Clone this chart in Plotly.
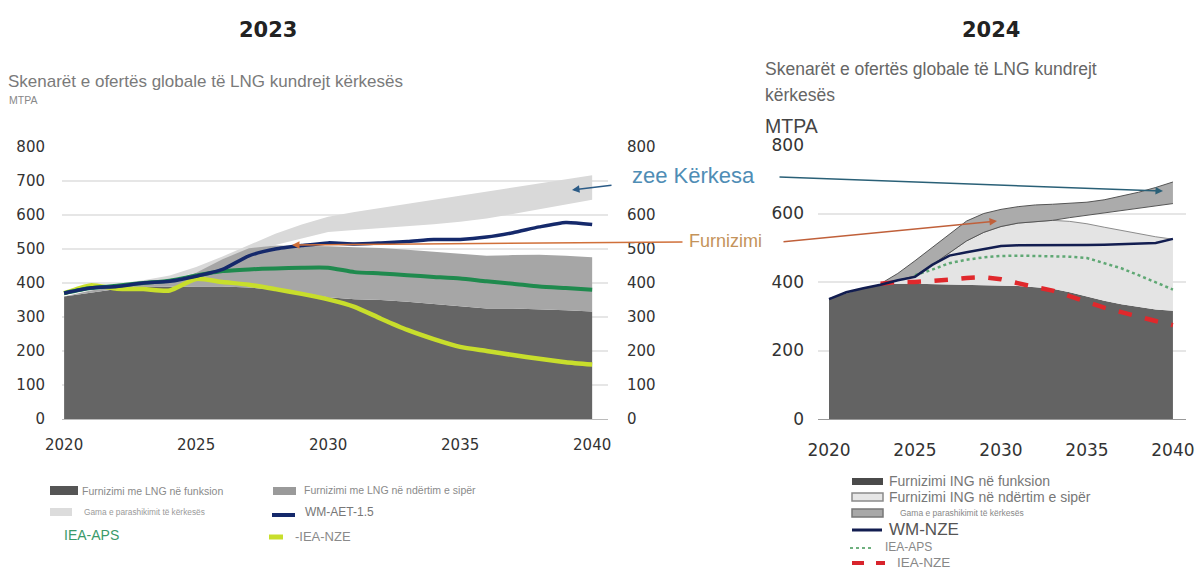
import plotly.graph_objects as go

W, H = 1195, 569
years = list(range(2020, 2041))

# ---------------- 2023 chart data (MTPA) ----------------
supply_op_23 = [360, 372, 382, 388, 390, 390, 390, 387, 380, 370, 358, 352, 350, 345, 338, 330, 325, 325, 323, 320, 316]
supply_top_23 = [360, 378, 388, 395, 405, 430, 470, 502, 510, 510, 508, 505, 503, 498, 492, 486, 480, 482, 483, 480, 476]
demand_lo_23 = [370, 385, 395, 400, 410, 430, 460, 495, 512, 530, 550, 556, 561, 566, 573, 580, 590, 603, 617, 630, 645]
demand_hi_23 = [372, 388, 398, 408, 422, 447, 478, 512, 545, 572, 595, 609, 621, 634, 646, 658, 669, 681, 694, 706, 717]
wm_aet_23 = [370, 385, 390, 400, 405, 420, 440, 480, 500, 510, 518, 515, 518, 522, 528, 528, 535, 548, 565, 578, 572]
iea_aps_23 = [370, 385, 392, 400, 407, 422, 435, 440, 443, 445, 445, 432, 428, 423, 418, 413, 405, 398, 390, 385, 380]
iea_nze_23 = [370, 393, 383, 382, 378, 412, 403, 395, 382, 368, 352, 330, 295, 262, 235, 212, 200, 188, 177, 167, 160]

# ---------------- 2024 chart data (MTPA) ----------------
supply_op_24 = [352, 368, 382, 391, 395, 395, 394, 392, 391, 390, 390, 388, 385, 380, 370, 357, 345, 335, 328, 320, 316]
supply_top_24 = [352, 368, 382, 392, 405, 418, 450, 485, 520, 545, 562, 572, 577, 580, 577, 570, 560, 550, 540, 532, 525]
band_years_24 = list(range(2023, 2041))
demand_lo_24 = [392, 405, 418, 450, 485, 520, 545, 562, 572, 577, 580, 588, 595, 602, 608, 615, 622, 629]
demand_hi_24 = [395, 425, 462, 500, 540, 578, 600, 612, 620, 625, 627, 629, 633, 640, 650, 662, 676, 692]
wm_nze_24 = [350, 370, 382, 392, 405, 415, 450, 477, 487, 495, 505, 507, 507, 508, 506, 508, 509, 510, 512, 514, 526]
aps_years_24 = list(range(2025, 2041))
iea_aps_24 = [420, 436, 455, 465, 472, 476, 477, 476, 475, 474, 470, 455, 440, 420, 400, 378]
nze_years_24 = list(range(2023, 2041))
iea_nze_24 = [395, 400, 400, 402, 407, 412, 414, 408, 395, 385, 375, 358, 342, 325, 312, 298, 286, 274]

y_ticks_23 = [0, 100, 200, 300, 400, 500, 600, 700, 800]
y_ticks_23_right = [0, 100, 200, 300, 400, 500, 600, 800]  # 700 is hidden under the call-out
y_ticks_24 = [0, 200, 400, 600, 800]
x_ticks = [2020, 2025, 2030, 2035, 2040]


def X(px):
    return px / W


def Y(py):
    return 1 - py / H


fig = go.Figure()

# ---- 2023 chart ----
fig.add_trace(go.Scatter(x=years, y=demand_lo_23, mode="lines", line=dict(width=0, color="#d9d9d9"),
                         xaxis="x", yaxis="y", hoverinfo="skip"))
fig.add_trace(go.Scatter(x=years, y=demand_hi_23, mode="lines", line=dict(width=0, color="#d9d9d9"),
                         fill="tonexty", fillcolor="#d9d9d9", xaxis="x", yaxis="y"))
fig.add_trace(go.Scatter(x=years, y=supply_op_23, mode="lines", line=dict(width=0, color="#656565"),
                         fill="tozeroy", fillcolor="#656565", xaxis="x", yaxis="y"))
fig.add_trace(go.Scatter(x=years, y=supply_top_23, mode="lines", line=dict(width=0, color="#a6a6a6"),
                         fill="tonexty", fillcolor="#a6a6a6", xaxis="x", yaxis="y"))
fig.add_trace(go.Scatter(x=years, y=iea_nze_23, mode="lines", line=dict(width=4.5, color="#c8de2c", shape="spline", smoothing=0.6),
                         xaxis="x", yaxis="y"))
fig.add_trace(go.Scatter(x=years, y=iea_aps_23, mode="lines", line=dict(width=4, color="#1f8a4e", shape="spline", smoothing=0.6),
                         xaxis="x", yaxis="y"))
fig.add_trace(go.Scatter(x=years, y=wm_aet_23, mode="lines", line=dict(width=3.5, color="#15296b", shape="spline", smoothing=0.6),
                         xaxis="x", yaxis="y"))
# secondary axis carrier
fig.add_trace(go.Scatter(x=[2020], y=[0], mode="markers", marker=dict(opacity=0), xaxis="x", yaxis="y3",
                         hoverinfo="skip"))

# ---- 2024 chart ----
fig.add_trace(go.Scatter(x=years, y=supply_op_24, mode="lines", line=dict(width=0, color="#636363"),
                         fill="tozeroy", fillcolor="#636363", xaxis="x2", yaxis="y2"))
fig.add_trace(go.Scatter(x=years, y=supply_top_24, mode="lines", line=dict(width=1, color="#8c8c8c"),
                         fill="tonexty", fillcolor="#e4e4e4", xaxis="x2", yaxis="y2"))
fig.add_trace(go.Scatter(x=band_years_24, y=demand_lo_24, mode="lines", line=dict(width=1, color="#555555"),
                         xaxis="x2", yaxis="y2"))
fig.add_trace(go.Scatter(x=band_years_24, y=demand_hi_24, mode="lines", line=dict(width=1, color="#555555"),
                         fill="tonexty", fillcolor="#ababab", xaxis="x2", yaxis="y2"))
fig.add_trace(go.Scatter(x=aps_years_24, y=iea_aps_24, mode="lines", line=dict(width=2.5, color="#5fa874", dash="dot"),
                         xaxis="x2", yaxis="y2"))
fig.add_trace(go.Scatter(x=nze_years_24, y=iea_nze_24, mode="lines", line=dict(width=4.5, color="#e0282c", dash="dash"),
                         xaxis="x2", yaxis="y2"))
fig.add_trace(go.Scatter(x=years, y=wm_nze_24, mode="lines", line=dict(width=2.5, color="#121d50"),
                         xaxis="x2", yaxis="y2"))

tickfont_l = dict(family="DejaVu Sans", size=15, color="#333333")
tickfont_r = dict(family="DejaVu Sans", size=17, color="#333333")

fig.update_layout(
    width=W, height=H, margin=dict(l=0, r=0, t=0, b=0, autoexpand=False),
    paper_bgcolor="white", plot_bgcolor="rgba(0,0,0,0)", showlegend=False,
    xaxis=dict(domain=[X(62), X(608)], range=[2019.92, 2040.6], tickvals=x_ticks, showgrid=False,
               zeroline=False, showline=True, linecolor="#bbbbbb", linewidth=1, tickfont=tickfont_l,
               ticks="", ticklabelstandoff=12, anchor="y", automargin=False),
    yaxis=dict(domain=[Y(419), Y(147)], range=[0, 800], tickvals=y_ticks_23, showgrid=True,
               gridcolor="#e6e6e6", gridwidth=1.5, zeroline=False, tickfont=tickfont_l, ticks="",
               ticklabelstandoff=16, anchor="x", automargin=False),
    yaxis3=dict(domain=[Y(419), Y(147)], range=[0, 800], tickvals=y_ticks_23_right, overlaying="y", side="right",
                showgrid=False, zeroline=False, tickfont=tickfont_l, ticks="", ticklabelstandoff=18, anchor="x",
                automargin=False),
    xaxis2=dict(domain=[X(818), X(1186)], range=[2019.36, 2040.76], tickvals=x_ticks, showgrid=False,
                zeroline=False, showline=True, linecolor="#999999", linewidth=1,
                tickfont=dict(family="DejaVu Sans", size=17, color="#333333"),
                ticks="", ticklabelstandoff=16, anchor="y2", automargin=False),
    yaxis2=dict(domain=[Y(419), Y(145)], range=[0, 800], tickvals=y_ticks_24, showgrid=True,
                gridcolor="#e6e6e6", gridwidth=1.5, zeroline=False, tickfont=tickfont_r, ticks="",
                ticklabelstandoff=13, anchor="x2", automargin=False),
)

ann = []
shapes = []


def text(px, py, s, size, color, family="Liberation Sans", anchor="left", bold=False):
    ann.append(dict(x=X(px), y=Y(py), xref="paper", yref="paper", text=("<b>%s</b>" % s) if bold else s,
                    showarrow=False, xanchor=anchor, yanchor="middle",
                    font=dict(family=family, size=size, color=color)))


def arrow(x0, y0, x1, y1, color, width=1.5, head=2):
    # tail (x0,y0) -> head (x1,y1), pixel coordinates
    ann.append(dict(x=X(x1), y=Y(y1), xref="paper", yref="paper", ax=x0 - x1, ay=y0 - y1,
                    axref="pixel", ayref="pixel", showarrow=True, arrowhead=head, arrowsize=1,
                    arrowwidth=width, arrowcolor=color, text=""))


# titles
text(268, 30, "2023", 21, "#222222", family="DejaVu Sans", anchor="center", bold=True)
text(991, 30, "2024", 21, "#222222", family="DejaVu Sans", anchor="center", bold=True)
text(6, 82, "Skenarët e ofertës globale të LNG kundrejt kërkesës", 17, "#7a7a7a")
text(7, 100, "MTPA", 10.5, "#888888")
text(763, 69, "Skenarët e ofertës globale të LNG kundrejt", 17.5, "#666666")
text(763, 95, "kërkesës", 17.5, "#666666")
text(763, 126, "MTPA", 19.5, "#444444")

# call-outs
arrow(613, 185, 572, 190, "#2b5b86", 1.5)
arrow(778, 177, 1163, 191, "#2a6077", 1.5)
text(630, 175, "zee Kërkesa", 22, "#4f8db5")
text(687, 241, "Furnizimi", 18, "#c4935a")
arrow(684, 242, 292, 245, "#d0703a", 1.5)
arrow(782, 242, 997, 221, "#c0603a", 1.5)

# left legend
shapes.append(dict(type="rect", xref="paper", yref="paper", x0=X(50), x1=X(78), y0=Y(495), y1=Y(486),
                   fillcolor="#555555", line=dict(width=0)))
text(80, 491, "Furnizimi me LNG në funksion", 10.5, "#8a8a8a")
shapes.append(dict(type="rect", xref="paper", yref="paper", x0=X(50), x1=X(72), y0=Y(516), y1=Y(508),
                   fillcolor="#dcdcdc", line=dict(width=0)))
text(82, 512, "Gama e parashikimit të kërkesës", 8.3, "#9a9a9a")
text(62, 535, "IEA-APS", 14, "#3a9a6a")
shapes.append(dict(type="rect", xref="paper", yref="paper", x0=X(273), x1=X(296), y0=Y(495), y1=Y(487),
                   fillcolor="#9a9a9a", line=dict(width=0)))
text(302, 490, "Furnizimi me LNG në ndërtim e sipër", 10.5, "#8a8a8a")
shapes.append(dict(type="line", xref="paper", yref="paper", x0=X(272), x1=X(295), y0=Y(515), y1=Y(515),
                   line=dict(color="#15296b", width=4)))
text(303, 512, "WM-AET-1.5", 12, "#777777")
shapes.append(dict(type="line", xref="paper", yref="paper", x0=X(269), x1=X(283), y0=Y(537), y1=Y(537),
                   line=dict(color="#c8de2c", width=5)))
text(293, 536, "-IEA-NZE", 13, "#8a8a8a")

# right legend
shapes.append(dict(type="rect", xref="paper", yref="paper", x0=X(852), x1=X(883), y0=Y(485), y1=Y(478),
                   fillcolor="#4a4a4a", line=dict(width=0)))
text(887, 481, "Furnizimi ING në funksion", 14, "#777777")
shapes.append(dict(type="rect", xref="paper", yref="paper", x0=X(852), x1=X(883), y0=Y(501), y1=Y(493),
                   fillcolor="#e6e6e6", line=dict(width=1.5, color="#8a8a8a")))
text(887, 497, "Furnizimi ING në ndërtim e sipër", 14, "#777777")
shapes.append(dict(type="rect", xref="paper", yref="paper", x0=X(852), x1=X(883), y0=Y(517), y1=Y(509),
                   fillcolor="#a8a8a8", line=dict(width=1.5, color="#777777")))
text(898, 513, "Gama e parashikimit të kërkesës", 8.5, "#888888")
shapes.append(dict(type="line", xref="paper", yref="paper", x0=X(852), x1=X(882), y0=Y(530), y1=Y(530),
                   line=dict(color="#121d50", width=3)))
text(887, 529, "WM-NZE", 17, "#555555")
shapes.append(dict(type="line", xref="paper", yref="paper", x0=X(850), x1=X(872), y0=Y(548), y1=Y(548),
                   line=dict(color="#6fb07f", width=2, dash="dot")))
text(883, 547, "IEA-APS", 12, "#888888")
shapes.append(dict(type="line", xref="paper", yref="paper", x0=X(852), x1=X(885), y0=Y(563), y1=Y(563),
                   line=dict(color="#d8242c", width=4, dash="dash")))
text(895, 562, "IEA-NZE", 13.5, "#888888")

fig.update_layout(annotations=ann, shapes=shapes)
fig.write_html("out.html", config={"displayModeBar": False},
               post_script="document.body.style.margin='0';document.body.style.overflow='hidden';")
